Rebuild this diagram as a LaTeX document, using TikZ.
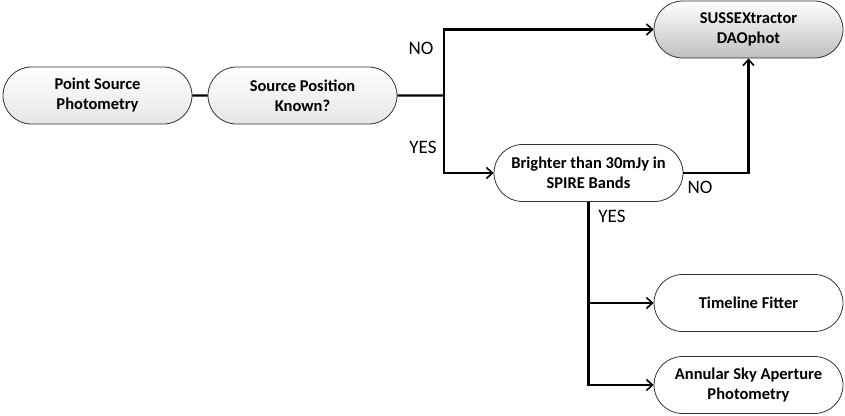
\documentclass[tikz,border=0pt]{standalone}
\usepackage{fontspec}
\setmainfont{Carlito}
\usetikzlibrary{shapes.misc, arrows.meta, positioning}
\tikzset{
  procbox/.style={rounded rectangle, draw=black!80, line width=0.8pt, minimum width=193pt, minimum height=57pt, inner sep=2pt, align=center, font=\bfseries\fontsize{16.5}{20}\selectfont},
  flow/.style={line width=2.2pt, -{Straight Barb[length=6pt, width=11pt, line width=1.6pt]}},
  link/.style={line width=2.2pt},
  answer/.style={font=\fontsize{19}{20}\selectfont, inner sep=0pt}
}
\begin{document}
\begin{tikzpicture}[x=1pt, y=-1pt]
  \useasboundingbox (0,0) rectangle (845,415);

  % Start and question
  \node[procbox, top color=white, bottom color=black!10] (psp) at (97.5, 95.5) {Point Source\\Photometry};
  \node[procbox, top color=white, bottom color=black!10] (known) at (302.5, 95.5) {Source Position\\Known?};

  % Methods
  \node[procbox, top color=white, bottom color=black!25] (sussex) at (748.5, 29.5) {SUSSEXtractor\\DAOphot};
  \node[procbox, fill=white] (bright) at (588.5, 173) {Brighter than 30mJy in\\SPIRE Bands};
  \node[procbox, fill=white] (timeline) at (748.5, 303) {Timeline Fitter};
  \node[procbox, fill=white] (annular) at (748.5, 385) {Annular Sky Aperture\\Photometry};

  % Connectors
  \coordinate (split) at (444, 95.5);
  \draw[link] (psp) -- (known);
  \draw[link] (known) -- (split);
  \draw[flow] (split) |- (sussex.west);
  \draw[flow] (split) |- (bright.west);
  \draw[flow] (bright.east) -| (sussex.south);
  \draw[flow] (bright.south) |- (timeline.west);
  \draw[flow] (bright.south) |- (annular.west);

  % Answers
  \node[answer] (no1) at (421, 48) {NO};
  \node[answer] (yes1) at (423, 147) {YES};
  \node[answer] (no2) at (700, 187) {NO};
  \node[answer] (yes2) at (612, 216) {YES};
\end{tikzpicture}
\end{document}
